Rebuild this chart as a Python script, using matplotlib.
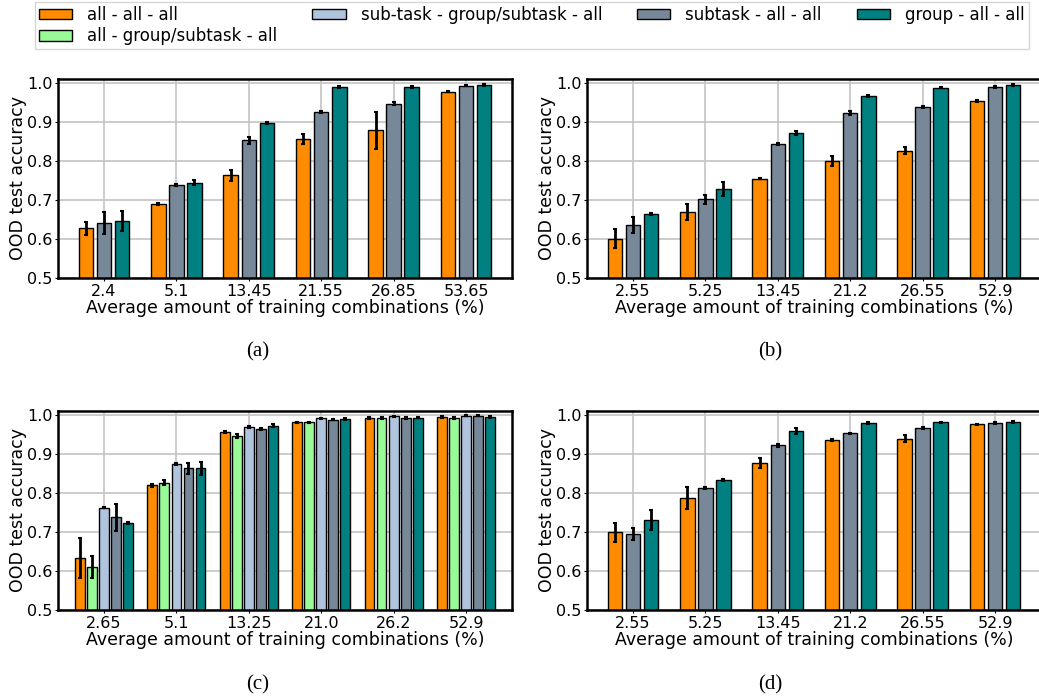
import numpy as np
import matplotlib
matplotlib.use("Agg")
import matplotlib.pyplot as plt

# series names and colours
names = ["all - all - all", "all - group/subtask - all",
         "sub-task - group/subtask - all", "subtask - all - all",
         "group - all - all"]
colors = ["darkorange", "palegreen", "lightsteelblue", "lightslategray", "teal"]

# (a)
a_ticks = ["2.4", "5.1", "13.45", "21.55", "26.85", "53.65"]
a_all = [0.627, 0.690, 0.763, 0.855, 0.878, 0.977]
a_all_err = [0.016, 0.003, 0.014, 0.013, 0.047, 0.002]
a_subtask = [0.641, 0.738, 0.852, 0.925, 0.946, 0.992]
a_subtask_err = [0.028, 0.002, 0.008, 0.002, 0.004, 0.002]
a_group = [0.645, 0.744, 0.896, 0.989, 0.989, 0.994]
a_group_err = [0.026, 0.007, 0.003, 0.002, 0.002, 0.002]

# (b)
b_ticks = ["2.55", "5.25", "13.45", "21.2", "26.55", "52.9"]
b_all = [0.601, 0.669, 0.754, 0.800, 0.826, 0.952]
b_all_err = [0.025, 0.020, 0.002, 0.013, 0.008, 0.003]
b_subtask = [0.636, 0.701, 0.842, 0.922, 0.938, 0.989]
b_subtask_err = [0.021, 0.012, 0.003, 0.006, 0.002, 0.002]
b_group = [0.663, 0.728, 0.871, 0.965, 0.987, 0.994]
b_group_err = [0.003, 0.017, 0.006, 0.003, 0.002, 0.002]

# (c)
c_ticks = ["2.65", "5.1", "13.25", "21.0", "26.2", "52.9"]
c_all = [0.632, 0.819, 0.956, 0.980, 0.991, 0.994]
c_all_err = [0.051, 0.004, 0.002, 0.002, 0.002, 0.002]
c_all_gs = [0.610, 0.826, 0.946, 0.980, 0.991, 0.991]
c_all_gs_err = [0.027, 0.006, 0.005, 0.002, 0.002, 0.002]
c_subtask_gs = [0.762, 0.874, 0.968, 0.990, 0.995, 0.997]
c_subtask_gs_err = [0.002, 0.002, 0.002, 0.002, 0.002, 0.002]
c_subtask = [0.737, 0.862, 0.963, 0.987, 0.991, 0.997]
c_subtask_err = [0.034, 0.015, 0.003, 0.002, 0.002, 0.002]
c_group = [0.723, 0.862, 0.971, 0.989, 0.992, 0.993]
c_group_err = [0.002, 0.016, 0.004, 0.002, 0.002, 0.002]

# (d)
d_ticks = ["2.55", "5.25", "13.45", "21.2", "26.55", "52.9"]
d_all = [0.699, 0.786, 0.876, 0.934, 0.938, 0.975]
d_all_err = [0.024, 0.028, 0.012, 0.003, 0.009, 0.002]
d_subtask = [0.694, 0.812, 0.921, 0.952, 0.965, 0.978]
d_subtask_err = [0.016, 0.002, 0.003, 0.002, 0.002, 0.002]
d_group = [0.731, 0.832, 0.957, 0.979, 0.980, 0.981]
d_group_err = [0.026, 0.002, 0.008, 0.002, 0.002, 0.002]


def draw_panel(ax, ticks, series, errs, idx):
    n = len(series)
    if n == 3:
        step, width = 0.25, 0.2
    else:
        step, width = 1 / 6, 0.135
    x = np.arange(len(ticks))
    handles = []
    for k, (vals, err, i) in enumerate(zip(series, errs, idx)):
        off = (k - (n - 1) / 2) * step
        h = ax.bar(x + off, vals, width, yerr=err, color=colors[i],
                   edgecolor="black", linewidth=1, label=names[i],
                   error_kw=dict(ecolor="black", elinewidth=2,
                                 capsize=1.2, capthick=1.5))
        handles.append(h)
    ax.set_xticks(x)
    ax.set_xticklabels(ticks)
    ax.set_xlim(-0.635, len(ticks) - 1 + 0.635)
    ax.set_ylim(0.5, 1.009)
    ax.set_yticks([0.5, 0.6, 0.7, 0.8, 0.9, 1.0])
    ax.set_axisbelow(True)
    ax.grid(True, color="#c4c4c4", linewidth=1.2)
    for s in ax.spines.values():
        s.set_linewidth(1.8)
    ax.tick_params(labelsize=11.5, length=2.5, pad=1.5)
    ax.set_xlabel("Average amount of training combinations (%)",
                  fontsize=12.5, labelpad=0)
    ax.set_ylabel("OOD test accuracy", fontsize=12.5, labelpad=0)
    return handles


fig = plt.figure(figsize=(10.39, 7.0), dpi=100)
w, h = 454 / 1039, 199 / 700
ax_a = fig.add_axes([58 / 1039, 1 - 278 / 700, w, h])
ax_b = fig.add_axes([587 / 1039, 1 - 278 / 700, w, h])
ax_c = fig.add_axes([58 / 1039, 1 - 610 / 700, w, h])
ax_d = fig.add_axes([587 / 1039, 1 - 610 / 700, w, h])

draw_panel(ax_a, a_ticks, [a_all, a_subtask, a_group],
           [a_all_err, a_subtask_err, a_group_err], [0, 3, 4])
draw_panel(ax_b, b_ticks, [b_all, b_subtask, b_group],
           [b_all_err, b_subtask_err, b_group_err], [0, 3, 4])
handles = draw_panel(ax_c, c_ticks,
                     [c_all, c_all_gs, c_subtask_gs, c_subtask, c_group],
                     [c_all_err, c_all_gs_err, c_subtask_gs_err,
                      c_subtask_err, c_group_err], [0, 1, 2, 3, 4])
draw_panel(ax_d, d_ticks, [d_all, d_subtask, d_group],
           [d_all_err, d_subtask_err, d_group_err], [0, 3, 4])

fig.legend(handles=handles, labels=names, ncol=4, loc="upper left",
           bbox_to_anchor=(33 / 1039, 1.0), fontsize=12,
           frameon=True, fancybox=False, edgecolor="#cccccc",
           handlelength=2.0, handleheight=0.6, handletextpad=0.9,
           columnspacing=2.1, borderpad=0.25, labelspacing=0.2,
           borderaxespad=0.1)

for label, xp, yp in [("(a)", 258, 352), ("(b)", 770, 352),
                      ("(c)", 258, 685), ("(d)", 770, 685)]:
    fig.text(xp / 1039, 1 - yp / 700, label, ha="center", va="center",
             fontsize=15, family="Liberation Serif")

fig.savefig("out.png", dpi=100)
